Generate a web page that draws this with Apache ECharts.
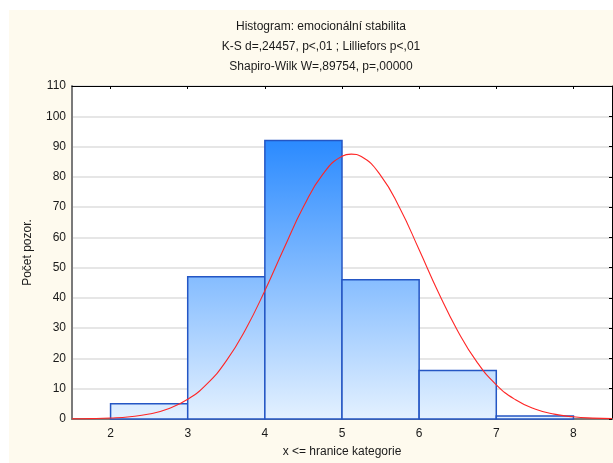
<!DOCTYPE html>
<html>
<head>
<meta charset="utf-8">
<title>Histogram: emocionální stabilita</title>
<script src="https://cdn.jsdelivr.net/npm/echarts@6/dist/echarts.min.js"></script>
<style>
  html, body { margin: 0; padding: 0; background: #ffffff; }
  #chart { width: 613px; height: 463px; }
</style>
</head>
<body>
<div id="chart"></div>
<script>
// Category upper bounds (x <= bound) and observed counts per bin
var binEdges = [2, 3, 4, 5, 6, 7, 8];
var binCounts = [5, 47, 92, 46, 16, 1];

// Expected normal curve, sampled along the x axis
var curveX = [1.5, 1.75, 2, 2.25, 2.5, 2.75, 3, 3.25, 3.5, 3.75, 4, 4.25, 4.5, 4.75,
              5, 5.12, 5.25, 5.5, 5.75, 6, 6.25, 6.5, 6.75, 7, 7.25, 7.5, 7.75, 8, 8.25, 8.5];
var curveY = [0.05, 0.12, 0.32, 0.75, 1.65, 3.4, 6.5, 11.6, 19.2, 29.6, 42.4, 56.5, 70.1, 80.8,
              86.8, 87.5, 86.7, 80.5, 69.6, 55.9, 41.8, 29.1, 18.8, 11.3, 6.35, 3.3, 1.6, 0.72, 0.3, 0.12];

// Axis ticks
var xTicks = [2, 3, 4, 5, 6, 7, 8];
var yTicks = [0, 10, 20, 30, 40, 50, 60, 70, 80, 90, 100, 110];

var titleLines = [
  'Histogram: emocionální stabilita',
  'K-S d=,24457, p<,01 ; Lilliefors p<,01',
  'Shapiro-Wilk W=,89754, p=,00000'
];

var FONT = '"Liberation Sans", Arial, sans-serif';

var binData = binCounts.map(function (c, i) {
  return [binEdges[i], binEdges[i + 1], c];
});
var curveData = curveX.map(function (x, i) { return [x, curveY[i]]; });

var chart = echarts.init(document.getElementById('chart'), null, { renderer: 'canvas' });

var PLOT_TOP = 86, PLOT_BOTTOM = 420;
var barFill = new echarts.graphic.LinearGradient(0, PLOT_TOP, 0, PLOT_BOTTOM, [
  { offset: 0, color: '#1a80ff' },
  { offset: 0.16, color: '#2a8aff' },
  { offset: 1, color: '#e4f1ff' }
], true);

var graphics = [
  { type: 'rect', shape: { x: 0, y: 0, width: 613, height: 10 }, style: { fill: '#ffffff' }, silent: true },
  { type: 'rect', shape: { x: 0, y: 0, width: 9, height: 463 }, style: { fill: '#ffffff' }, silent: true }
];
titleLines.forEach(function (t, i) {
  graphics.push({
    type: 'text', x: 321, y: 27 + i * 20,
    style: { text: t, fill: '#1a1a1a', font: '12px ' + FONT, textAlign: 'center', textVerticalAlign: 'middle' },
    silent: true
  });
});

var axisText = { color: '#1a1a1a', fontFamily: FONT, fontSize: 12 };

chart.setOption({
  animation: false,
  backgroundColor: '#fefaee',
  graphic: graphics,
  grid: {
    left: 72, right: 1, top: PLOT_TOP, bottom: 463 - PLOT_BOTTOM,
    show: true, backgroundColor: '#ffffff', borderWidth: 0
  },
  xAxis: [
    {
      type: 'value', position: 'bottom', min: 1.5, max: 8.5,
      name: 'x <= hranice kategorie', nameLocation: 'middle', nameGap: 27,
      nameTextStyle: axisText,
      axisLine: { show: true, onZero: false, lineStyle: { color: '#7a7a7a', width: 2 } },
      axisTick: { show: false },
      axisLabel: Object.assign({ customValues: xTicks, margin: 9 }, axisText),
      splitLine: { show: false }
    },
    {
      type: 'value', position: 'top', min: 1.5, max: 8.5,
      axisLine: { show: true, onZero: false, lineStyle: { color: '#000000', width: 1 } },
      axisTick: { show: true, inside: true, length: 3, customValues: xTicks, lineStyle: { color: '#000000' } },
      axisLabel: { show: false },
      splitLine: { show: false }
    }
  ],
  yAxis: [
    {
      type: 'value', position: 'left', min: 0, max: 110, interval: 10,
      name: 'Počet pozor.', nameLocation: 'middle', nameGap: 38,
      nameTextStyle: axisText,
      axisLine: { show: true, onZero: false, lineStyle: { color: '#7a7a7a', width: 2 } },
      axisTick: { show: false },
      axisLabel: Object.assign({ customValues: yTicks, margin: 6 }, axisText),
      splitLine: { show: true, lineStyle: { color: '#dedede', width: 1.5 } }
    },
    {
      type: 'value', position: 'right', min: 0, max: 110, interval: 10,
      axisLine: { show: true, onZero: false, lineStyle: { color: '#000000', width: 1 } },
      axisTick: { show: true, inside: true, length: 3, lineStyle: { color: '#000000' } },
      axisLabel: { show: false },
      splitLine: { show: false }
    }
  ],
  series: [
    {
      type: 'custom',
      xAxisIndex: 0, yAxisIndex: 0,
      data: binData,
      encode: { x: [0, 1], y: 2 },
      renderItem: function (params, api) {
        var p0 = api.coord([api.value(0), api.value(2)]);
        var p1 = api.coord([api.value(1), 0]);
        return {
          type: 'rect',
          shape: { x: p0[0], y: p0[1], width: p1[0] - p0[0], height: p1[1] - p0[1] },
          style: { fill: barFill, stroke: '#2456c4', lineWidth: 1.5 }
        };
      },
      z: 2
    },
    {
      type: 'line',
      xAxisIndex: 0, yAxisIndex: 0,
      data: curveData,
      smooth: 0.5,
      smoothMonotone: 'none',
      showSymbol: false,
      lineStyle: { color: '#ff2626', width: 1.1 },
      z: 3
    }
  ]
});
</script>
</body>
</html>
